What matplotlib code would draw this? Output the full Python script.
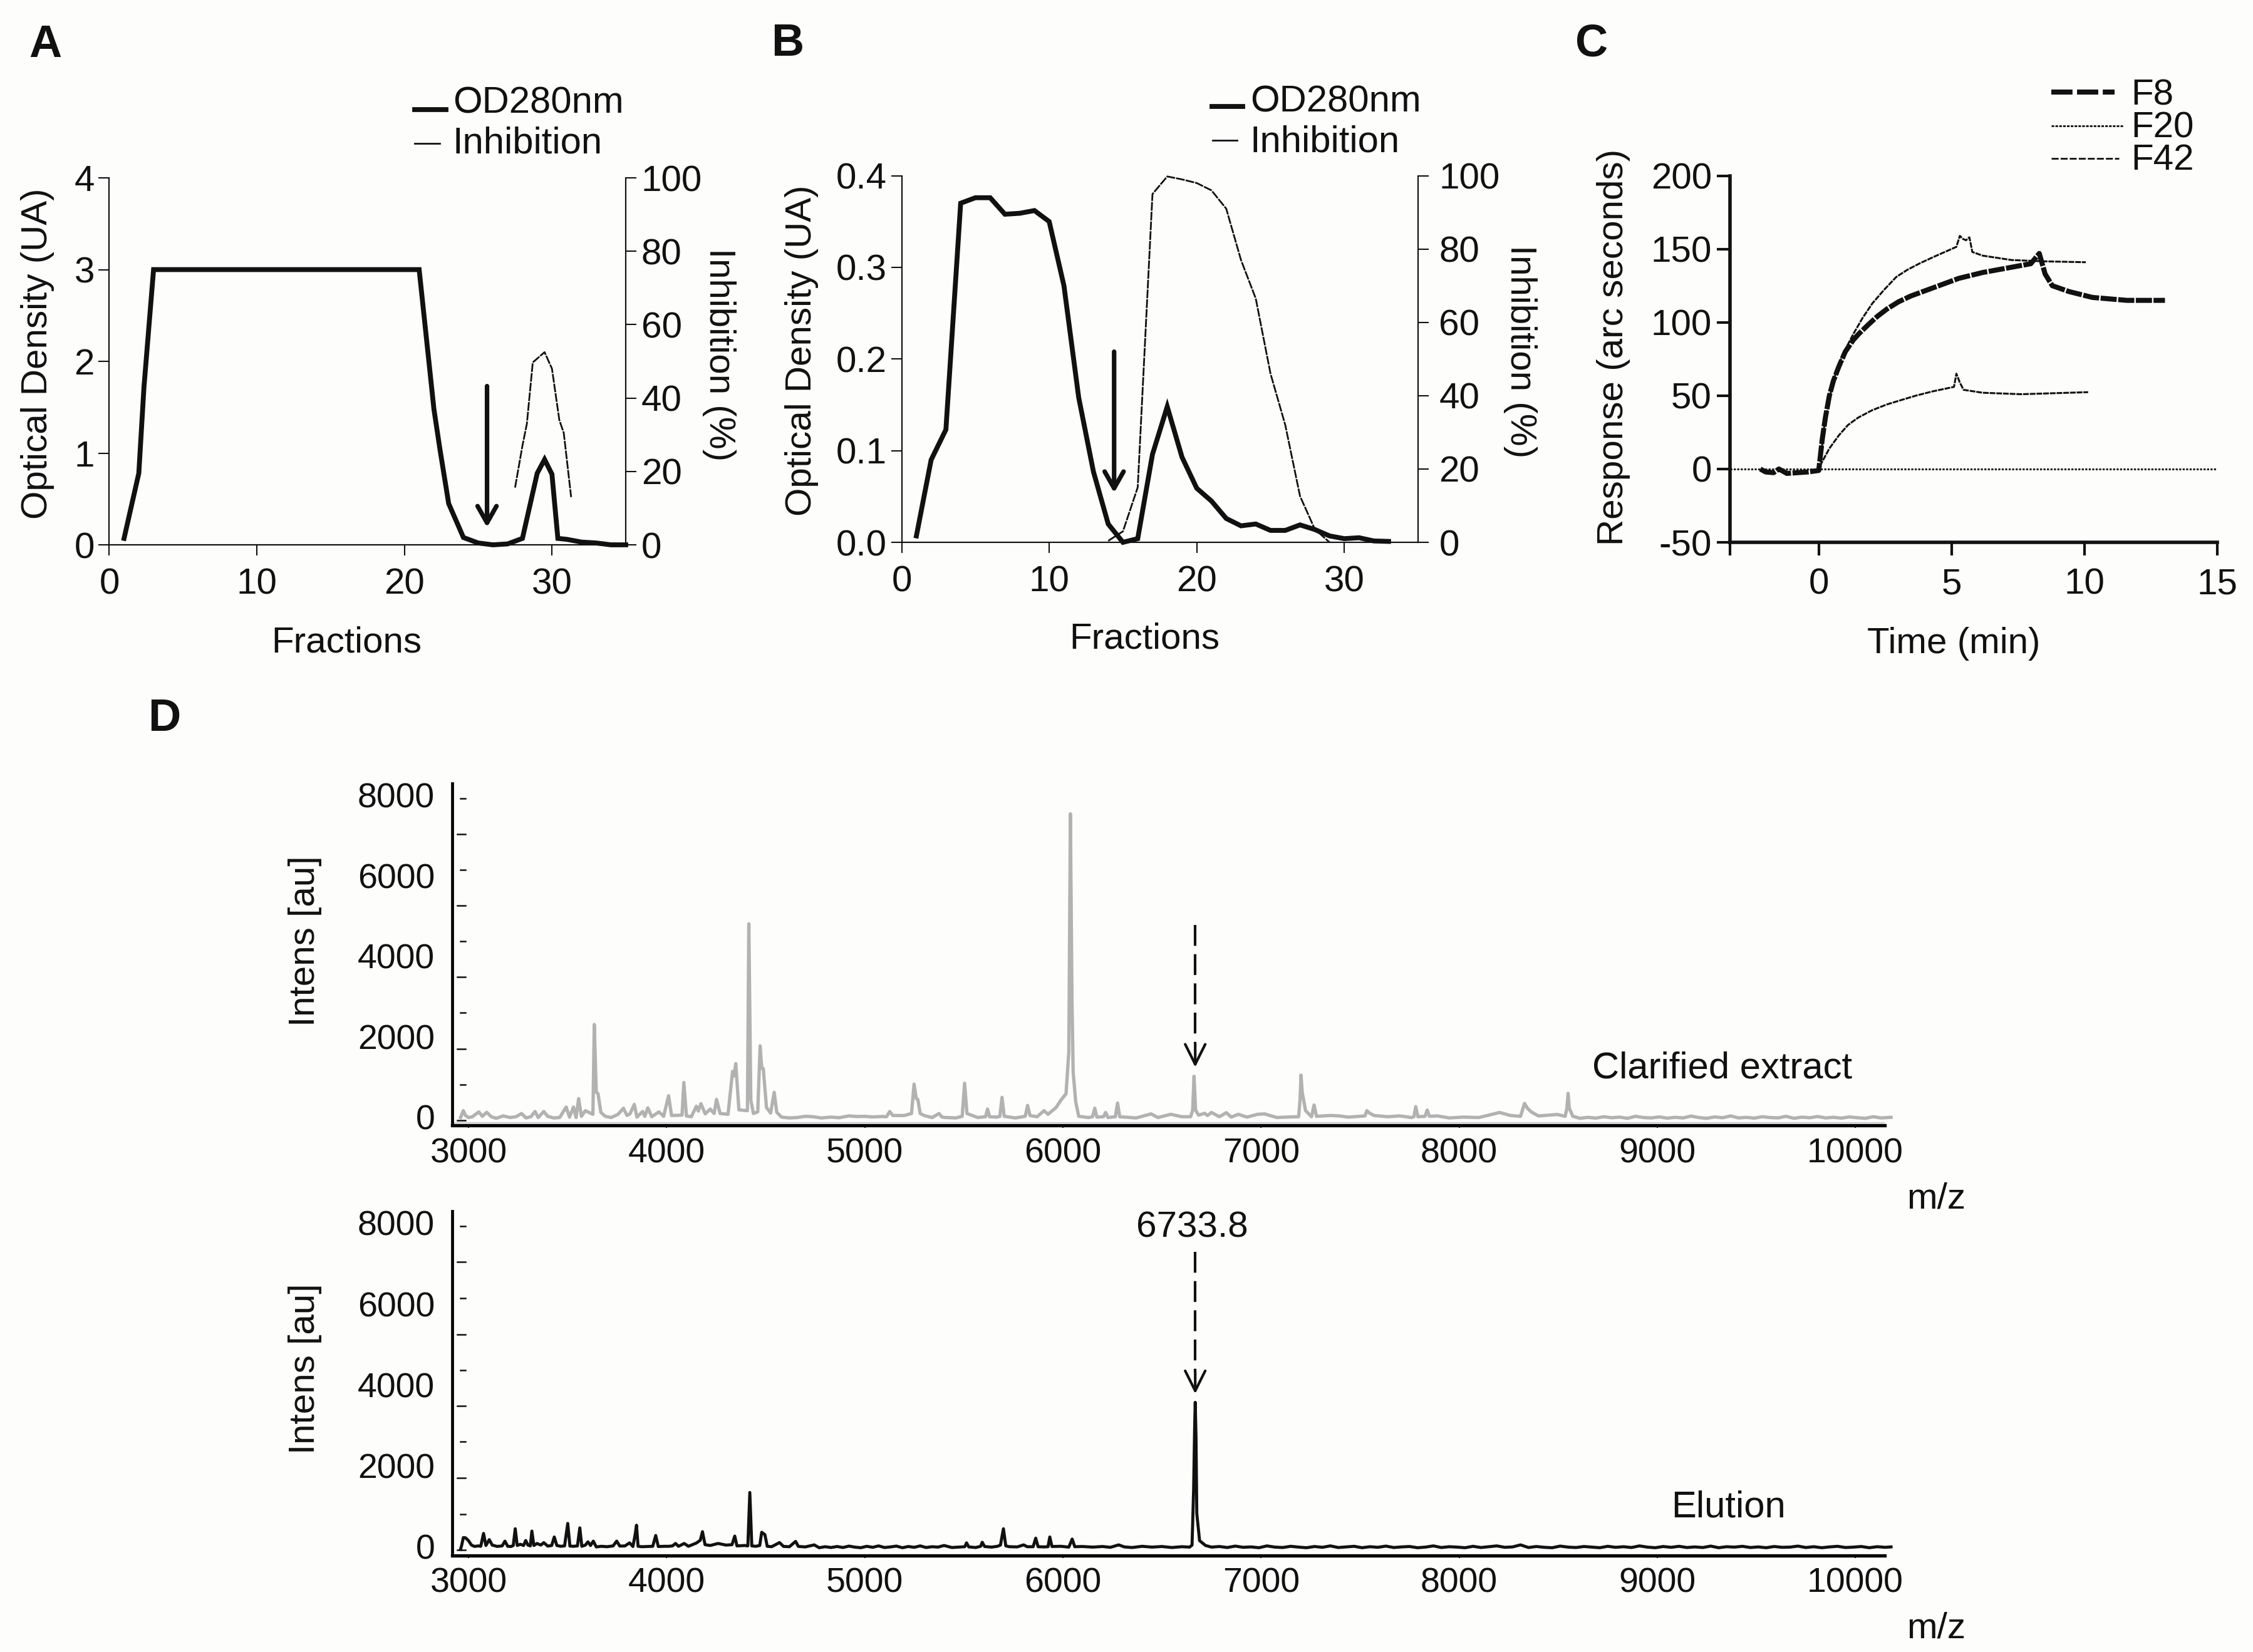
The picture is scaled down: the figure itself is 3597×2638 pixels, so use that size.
import matplotlib
matplotlib.use('Agg')
import matplotlib.pyplot as plt
from matplotlib.lines import Line2D

plt.rcParams['font.family'] = ['Liberation Sans', 'DejaVu Sans']
plt.rcParams['axes.unicode_minus'] = False

W, H = 3598, 2638
BG = '#fdfdfc'
INK = '#111111'
FS = 42

# panel A
a_frac = [1, 2, 2.35, 3, 5, 10, 15, 21, 22, 22.4, 23, 24, 25, 26, 27, 28, 29, 29.5, 30, 30.4, 31, 32, 33, 34, 35]
a_od = [0.07, 0.78, 1.72, 3.0, 3.0, 3.0, 3.0, 3.0, 1.48, 1.05, 0.45, 0.08, 0.02, 0.0, 0.01, 0.07, 0.78, 0.93, 0.77, 0.07, 0.06, 0.03, 0.02, 0.0, 0.0]
a_inh_frac = [27.5, 28, 28.3, 28.7, 29.5, 30, 30.5, 30.8, 31.3]
a_inh = [15.6, 27, 33, 49.7, 52.5, 48, 34, 30.5, 13]

# panel B
b_frac = list(range(1, 34))
b_od = [0.007, 0.09, 0.123, 0.37, 0.376, 0.376, 0.358, 0.359, 0.362, 0.35, 0.28, 0.158, 0.077, 0.02, 0.0, 0.004,
        0.096, 0.148, 0.093, 0.059, 0.045, 0.026, 0.018, 0.02, 0.013, 0.013, 0.019, 0.014, 0.007, 0.004, 0.005, 0.0015, 0.001]
b_inh_frac = list(range(14, 30))
b_inh = [0.4, 3, 15, 95, 99.8, 99, 98, 96, 91, 77, 66.5, 46, 32, 12.6, 3.6, 0]

# panel C
f8_t = [-2.2, -2.0, -1.7, -1.5, -1.2, -0.8, -0.4, 0, 0.13, 0.25, 0.4, 0.55, 0.76, 1.0, 1.3, 1.5, 1.84, 2.2, 2.56, 3.0, 3.47, 4.37, 5.27, 6.17, 7.08, 7.98, 8.3, 8.52, 8.79, 9.42, 10.3, 11.6, 13.03]
f8_r = [0, -2, -2.5, 0, -3, -2.5, -2, -1, 20, 35, 50, 60, 70, 80, 88, 92, 98, 104, 109, 114, 118, 124, 130, 134, 137, 140, 147, 133, 125, 121, 117, 115, 115]
f20_t = [0.04, 0.18, 0.4, 0.58, 0.9, 1.3, 1.65, 2.02, 2.45, 2.92, 3.35, 3.83, 4.37, 5.18, 5.31, 5.42, 5.54, 5.67, 5.78, 6.17, 7.26, 8.52, 10.05]
f20_r = [0, 26, 48, 62, 78, 92, 103, 113, 122, 131, 136, 140.5, 145, 151.5, 159, 157, 156, 158, 148, 145.5, 142.5, 141.6, 141]
f42_t = [0.04, 0.4, 0.76, 1.1, 1.48, 2, 2.56, 3.1, 3.65, 4.3, 5.09, 5.18, 5.31, 5.45, 6.17, 7.62, 10.14]
f42_r = [2, 14, 23, 30, 35, 40, 44, 47, 50, 53, 56, 65, 59, 54, 52, 51, 52.4]

# panel D, clarified extract
clar_mz = [2960, 2974, 2985, 3000, 3020, 3052, 3070, 3092, 3115, 3140,
           3175, 3210, 3240, 3268, 3290, 3315, 3336, 3352, 3380, 3400,
           3430, 3460, 3493, 3510, 3530, 3543, 3556, 3570, 3590, 3628,
           3635, 3645, 3654, 3668, 3690, 3720, 3755, 3782, 3800, 3815,
           3837, 3850, 3879, 3890, 3905, 3925, 3961, 3985, 4010, 4025,
           4078, 4087, 4100, 4125, 4150, 4160, 4173, 4195, 4220, 4240,
           4252, 4270, 4310, 4333, 4340, 4349, 4365, 4408, 4415, 4425,
           4438, 4460, 4472, 4480, 4488, 4504, 4525, 4543, 4556, 4580,
           4620, 4660, 4700, 4740, 4780, 4830, 4870, 4920, 4960, 5000,
           5040, 5085, 5110, 5126, 5142, 5200, 5236, 5249, 5260, 5268,
           5280, 5300, 5340, 5375, 5390, 5410, 5460, 5492, 5504, 5516,
           5570, 5610, 5620, 5630, 5665, 5682, 5693, 5704, 5760, 5810,
           5822, 5834, 5870, 5905, 5925, 5966, 5990, 6016, 6030, 6038,
           6046, 6052, 6065, 6080, 6130, 6150, 6161, 6172, 6205, 6216,
           6228, 6265, 6276, 6287, 6370, 6445, 6480, 6545, 6600, 6645,
           6655, 6662, 6670, 6685, 6716, 6730, 6750, 6790, 6825, 6850,
           6885, 6930, 6982, 7018, 7080, 7150, 7190, 7197, 7202, 7208,
           7225, 7255, 7268, 7280, 7350, 7395, 7440, 7500, 7525, 7534,
           7548, 7570, 7640, 7700, 7760, 7772, 7781, 7792, 7828, 7839,
           7850, 7890, 7950, 8020, 8100, 8204, 8260, 8310, 8330, 8345,
           8364, 8400, 8496, 8535, 8544, 8550, 8556, 8574, 8610, 8650,
           8690, 8730, 8770, 8810, 8850, 8890, 8930, 8970, 9010, 9050,
           9090, 9130, 9170, 9210, 9250, 9290, 9330, 9370, 9410, 9450,
           9490, 9530, 9570, 9610, 9650, 9690, 9730, 9770, 9810, 9850,
           9890, 9930, 9970, 10010, 10050, 10090, 10130, 10180]
clar_int = [70, 240, 120, 70, 90, 210, 100, 200, 90, 50,
            110, 70, 90, 170, 60, 90, 220, 70, 220, 100,
            60, 70, 330, 80, 330, 70, 540, 100, 240, 150,
            2380, 700, 660, 200, 100, 70, 150, 300, 120, 160,
            395, 80, 220, 100, 310, 90, 210, 100, 610, 120,
            130, 940, 110, 90, 350, 230, 415, 160, 280, 170,
            520, 170, 150, 1215, 1100, 1410, 260, 240, 4880, 500,
            170, 210, 1850, 1300, 1285, 320, 180, 695, 200, 80,
            60, 70, 100, 90, 60, 80, 65, 110, 95, 100,
            85, 95, 90, 220, 120, 120, 170, 900, 540, 520,
            170, 120, 70, 170, 80, 70, 60, 100, 920, 170,
            70, 90, 280, 90, 80, 100, 570, 100, 60, 100,
            370, 120, 90, 240, 150, 320, 500, 660, 1700, 7610,
            3000, 1200, 450, 100, 70, 90, 300, 80, 90, 195,
            70, 90, 430, 90, 60, 160, 70, 150, 90, 90,
            250, 1096, 250, 130, 175, 120, 195, 90, 190, 80,
            150, 80, 150, 160, 70, 85, 90, 500, 1124, 700,
            240, 90, 380, 100, 120, 110, 80, 100, 110, 240,
            180, 120, 90, 110, 70, 90, 340, 90, 100, 255,
            100, 110, 60, 80, 70, 195, 120, 100, 420, 300,
            210, 110, 145, 100, 300, 670, 300, 100, 50, 75,
            55, 90, 65, 80, 50, 100, 70, 60, 85, 55,
            75, 60, 105, 70, 50, 85, 65, 110, 60, 75,
            55, 90, 70, 60, 100, 50, 80, 65, 95, 60,
            75, 55, 85, 65, 50, 90, 60, 75]

# panel D, elution
elu_mz = [2960, 2966, 2974, 2985, 3000, 3015, 3030, 3050, 3062, 3076,
          3088, 3105, 3120, 3145, 3170, 3184, 3198, 3215, 3226, 3236,
          3246, 3262, 3278, 3289, 3300, 3312, 3320, 3330, 3346, 3365,
          3380, 3400, 3420, 3433, 3446, 3465, 3485, 3501, 3512, 3530,
          3550, 3562, 3572, 3590, 3603, 3616, 3630, 3645, 3670, 3700,
          3730, 3748, 3764, 3790, 3813, 3830, 3842, 3848, 3856, 3875,
          3930, 3945, 3958, 3990, 4010, 4030, 4045, 4060, 4089, 4110,
          4150, 4170, 4181, 4194, 4220, 4260, 4300, 4330, 4344, 4355,
          4395, 4410, 4420, 4430, 4450, 4470, 4480, 4496, 4508, 4530,
          4570, 4590, 4620, 4651, 4665, 4700, 4745, 4770, 4800, 4830,
          4860, 4890, 4920, 4950, 4980, 5010, 5040, 5070, 5100, 5130,
          5160, 5190, 5220, 5250, 5280, 5310, 5340, 5370, 5400, 5440,
          5470, 5505, 5514, 5525, 5560, 5585, 5593, 5605, 5640, 5670,
          5685, 5700, 5712, 5730, 5770, 5802, 5820, 5850, 5863, 5875,
          5905, 5925, 5934, 5945, 5990, 6030, 6047, 6060, 6100, 6150,
          6200, 6240, 6282, 6310, 6350, 6400, 6450, 6500, 6550, 6600,
          6640, 6652, 6660, 6665, 6668, 6672, 6676, 6690, 6720, 6750,
          6790, 6830, 6870, 6910, 6950, 6990, 7030, 7070, 7110, 7150,
          7190, 7230, 7270, 7310, 7350, 7390, 7430, 7470, 7510, 7550,
          7590, 7630, 7670, 7710, 7750, 7790, 7830, 7870, 7910, 7950,
          7990, 8030, 8070, 8110, 8150, 8190, 8230, 8270, 8310, 8350,
          8390, 8430, 8470, 8510, 8550, 8590, 8630, 8670, 8710, 8750,
          8790, 8830, 8870, 8910, 8950, 8990, 9030, 9070, 9110, 9150,
          9190, 9230, 9270, 9310, 9350, 9390, 9430, 9470, 9510, 9550,
          9590, 9630, 9670, 9710, 9750, 9790, 9830, 9870, 9910, 9950,
          9990, 10030, 10070, 10110, 10150, 10180]
elu_int = [15, 120, 305, 300, 230, 120, 87, 100, 90, 408,
           110, 255, 120, 87, 100, 218, 90, 85, 110, 524,
           110, 140, 110, 233, 120, 100, 466, 110, 160, 120,
           180, 95, 110, 320, 110, 90, 100, 655, 95, 90,
           100, 546, 90, 120, 200, 110, 218, 75, 90, 80,
           100, 218, 95, 100, 175, 85, 400, 611, 90, 80,
           90, 357, 85, 90, 90, 100, 160, 90, 160, 90,
           170, 240, 451, 130, 110, 160, 120, 130, 342, 100,
           110, 100, 1420, 100, 90, 110, 437, 378, 90, 80,
           182, 87, 80, 211, 87, 75, 125, 55, 80, 60,
           85, 60, 95, 70, 55, 90, 65, 100, 60, 75,
           95, 55, 85, 65, 100, 60, 80, 70, 110, 60,
           70, 80, 175, 75, 60, 90, 190, 85, 70, 90,
           120, 524, 100, 80, 75, 125, 80, 80, 291, 80,
           75, 80, 320, 85, 90, 70, 269, 80, 85, 70,
           85, 65, 125, 75, 60, 90, 70, 85, 60, 80,
           70, 120, 1500, 3000, 3647, 2800, 900, 230, 110, 70,
           85, 60, 95, 65, 75, 55, 100, 70, 60, 90,
           70, 55, 85, 65, 100, 60, 75, 90, 55, 80,
           65, 95, 60, 75, 85, 55, 70, 100, 60, 80,
           70, 55, 90, 60, 80, 100, 65, 75, 125, 60,
           85, 65, 55, 95, 70, 60, 85, 70, 55, 90,
           65, 80, 60, 100, 70, 55, 85, 65, 90, 60,
           75, 60, 95, 55, 80, 70, 90, 60, 75, 55,
           85, 65, 70, 95, 60, 80, 55, 75, 90, 60,
           70, 85, 55, 80, 65, 75]

# label 8000 etc. sit a little above the matching tick in the original
d_tick_vals = [8000, 7110, 6220, 5330, 4440, 3560, 2670, 1780, 890, 0]
d_label_vals = [0, 2000, 4000, 6000, 8000]
d_x_vals = [3000, 4000, 5000, 6000, 7000, 8000, 9000, 10000]


def make_axes(left, top, right, bottom):
    return plt.gcf().add_axes([left / W, 1 - bottom / H, (right - left) / W, (bottom - top) / H], facecolor='none')


def ftext(x, y, s, **kw):
    kw.setdefault('fontsize', FS)
    kw.setdefault('va', 'center')
    kw.setdefault('color', INK)
    # matplotlib centres on the full line box, glyphs end up a bit high
    if 'rotation' not in kw:
        y += 5
    plt.gcf().text(x / W, 1 - y / H, s, **kw)


def fline(x0, x1, y, **kw):
    kw.setdefault('color', INK)
    plt.gcf().add_artist(Line2D([x0 / W, x1 / W], [1 - y / H, 1 - y / H], transform=plt.gcf().transFigure, **kw))


def arrow(ax, x, y0, y1, lw=5.2, hl=0.6, hw=0.34, scale=32):
    ax.annotate('', xy=(x, y1), xytext=(x, y0),
                arrowprops=dict(arrowstyle=f'->,head_length={hl},head_width={hw}', color=INK, lw=lw,
                                shrinkA=0, shrinkB=0, mutation_scale=scale))


def fraction_panel(rect, xs, od, inh_x, inh, ylim, yticks, yfmt, arrow_x, arrow_y, r_pad):
    ax = make_axes(*rect)
    ax.plot(xs, od, color=INK, lw=5.6, solid_joinstyle='miter', clip_on=False)
    ax.set_xlim(0, 35)
    ax.set_ylim(*ylim)
    ax.set_xticks([0, 10, 20, 30])
    ax.set_yticks(yticks)
    ax.set_yticklabels([yfmt.format(v) for v in yticks])
    ax.tick_params(axis='x', length=12, width=1.5, pad=14, labelsize=FS, colors=INK)
    ax.tick_params(axis='y', length=12, width=1.5, pad=5, labelsize=FS, colors=INK)
    ax.spines['top'].set_visible(False)
    for s in ['left', 'right', 'bottom']:
        ax.spines[s].set_linewidth(1.5)
        ax.spines[s].set_color(INK)
    arrow(ax, arrow_x, arrow_y[0], arrow_y[1])

    ax2 = ax.twinx()
    ax2.set_facecolor('none')
    ax2.plot(inh_x, inh, color=INK, lw=2.0, ls=(0, (5, 0.6)), clip_on=False)
    ax2.set_ylim(0, 100)
    ax2.set_yticks([0, 20, 40, 60, 80, 100])
    ax2.tick_params(axis='y', length=12, width=1.5, pad=r_pad, labelsize=FS, colors=INK)
    ax2.spines['top'].set_visible(False)
    for s in ['left', 'right', 'bottom']:
        ax2.spines[s].set_linewidth(1.5)
        ax2.spines[s].set_color(INK)
    return ax


def spectrum(rect, ylim, mz, inten, color, lw):
    ax = make_axes(*rect)
    ax.plot(mz, inten, color=color, lw=lw, clip_on=False, solid_joinstyle='round')
    ax.set_xlim(2918, 10148)
    ax.set_ylim(*ylim)
    ax.set_xticks(d_x_vals)
    ax.set_yticks([v + 80 for v in d_label_vals])
    ax.set_yticklabels([str(v) for v in d_label_vals])
    ax.tick_params(axis='y', length=0, pad=20, labelsize=FS - 2, colors=INK)
    ax.tick_params(axis='x', length=3, width=1.5, pad=11, labelsize=FS - 2, colors=INK)
    ax.spines['top'].set_visible(False)
    ax.spines['right'].set_visible(False)
    ax.spines['left'].set_linewidth(3.4)
    ax.spines['bottom'].set_linewidth(3.8)
    # small detached ticks right of the axis line
    for i, v in enumerate(d_tick_vals):
        x0 = 0.0057 if i % 2 == 0 else 0.0035
        ax.plot([x0, 0.0092], [v, v], color=INK, lw=1.8, transform=ax.get_yaxis_transform())
    return ax


def dashed_arrow(ax, x, y0, y1, head_y):
    ax.plot([x, x], [y0, head_y], color=INK, lw=3.0, ls=(0, (8, 3.2)))
    arrow(ax, x, head_y, y1, lw=3.0, hl=0.72, hw=0.36, scale=32)


fig = plt.figure(figsize=(W / 100, H / 100), dpi=100, facecolor=BG)

# A
fraction_panel((174.5, 284, 999, 870), a_frac, a_od, a_inh_frac, a_inh, (0, 4), [0, 1, 2, 3, 4], '{:d}', 25.6, (1.73, 0.19), 6)
ftext(46, 67, 'A', fontsize=52, fontweight='bold')
fline(662, 712, 175, lw=5.6)
fline(662, 702, 229, lw=2.0)
ftext(723, 160, 'OD280nm', fontsize=43)
ftext(723, 224, 'Inhibition', fontsize=43)
ftext(60, 565, 'Optical Density (UA)', rotation=90, ha='center')
ftext(1148, 566, 'Inhibition (%)', rotation=270, ha='center')
ftext(553, 1021, 'Fractions', ha='center')

# B
fraction_panel((1439.5, 280.6, 2264, 866), b_frac, b_od, b_inh_frac, b_inh, (0, 0.4), [0, 0.1, 0.2, 0.3, 0.4], '{:.1f}', 14.4, (0.208, 0.054), 12)
ftext(1231, 65, 'B', fontsize=52, fontweight='bold')
fline(1935, 1984, 170, lw=5.6)
fline(1936, 1975, 224, lw=2.0)
ftext(1996, 158, 'OD280nm', fontsize=43)
ftext(1996, 222, 'Inhibition', fontsize=43)
ftext(1280, 560, 'Optical Density (UA)', rotation=90, ha='center')
ftext(2427, 561, 'Inhibition (%)', rotation=270, ha='center')
ftext(1827, 1015, 'Fractions', ha='center')

# C
axc = make_axes(2762, 280.6, 3540, 866)
axc.axhline(0, color=INK, lw=2, ls=(0, (1.2, 0.8)), xmin=0.0, xmax=1.0)
axc.plot(f42_t, f42_r, color=INK, lw=2.2, ls=(0, (3, 0.5)))
axc.plot(f20_t, f20_r, color=INK, lw=2.2, ls=(0, (3, 0.5)))
axc.plot(f8_t, f8_r, color=INK, lw=5.8, ls=(0, (3.2, 0.3)))
axc.set_xlim(-3.34, 15)
axc.set_ylim(-50, 200)
axc.set_xticks([-3.34, 0, 5, 10, 15])
axc.set_xticklabels(['', '0', '5', '10', '15'])
axc.set_yticks([-50, 0, 50, 100, 150, 200])
axc.tick_params(axis='x', length=15, width=3, pad=14, labelsize=FS, colors=INK)
axc.tick_params(axis='y', length=15, width=3, pad=6, labelsize=FS, colors=INK)
axc.spines['top'].set_visible(False)
axc.spines['right'].set_visible(False)
axc.spines['left'].set_linewidth(4)
axc.spines['bottom'].set_linewidth(4)
axc.spines['left'].set_color(INK)
axc.spines['bottom'].set_color(INK)
ftext(2515, 65, 'C', fontsize=52, fontweight='bold')
fline(3275, 3376, 147, lw=5.8, ls=(0, (4.2, 0.9)))
fline(3275, 3391, 201, lw=2.0, ls=(0, (1.5, 0.7)))
fline(3275, 3383, 253, lw=2.0, ls=(0, (4, 1.2)))
ftext(3402, 147, 'F8')
ftext(3402, 200, 'F20')
ftext(3402, 251, 'F42')
ftext(2576, 554, 'Response (arc seconds)', rotation=90, ha='center')
ftext(3119, 1023, 'Time (min)', ha='center')

# D
ftext(236, 1143, 'D', fontsize=52, fontweight='bold')
ax1 = spectrum((722, 1251, 3009, 1797), (-124, 8366), clar_mz, clar_int, '#b2b2b2', 3.8)
ax1.axhline(-55, color='#cfcfcf', lw=1.6, zorder=1)
dashed_arrow(ax1, 6668, 4858, 1319, 1900)
ftext(2542, 1701, 'Clarified extract', fontsize=43)
ftext(3044, 1910, 'm/z')
ftext(487, 1503, 'Intens [au]', rotation=90, ha='center')

ax2 = spectrum((722, 1934, 3009, 2483.5), (-131, 8370), elu_mz, elu_int, INK, 3.5)
dashed_arrow(ax2, 6668, 7367, 3858, 4400)
ftext(1903, 1955, '6733.8', ha='center')
ftext(2668, 2402, 'Elution', fontsize=43)
ftext(3044, 2596, 'm/z')
ftext(487, 2186, 'Intens [au]', rotation=90, ha='center')

fig.savefig('out.png', dpi=100, facecolor=BG)
